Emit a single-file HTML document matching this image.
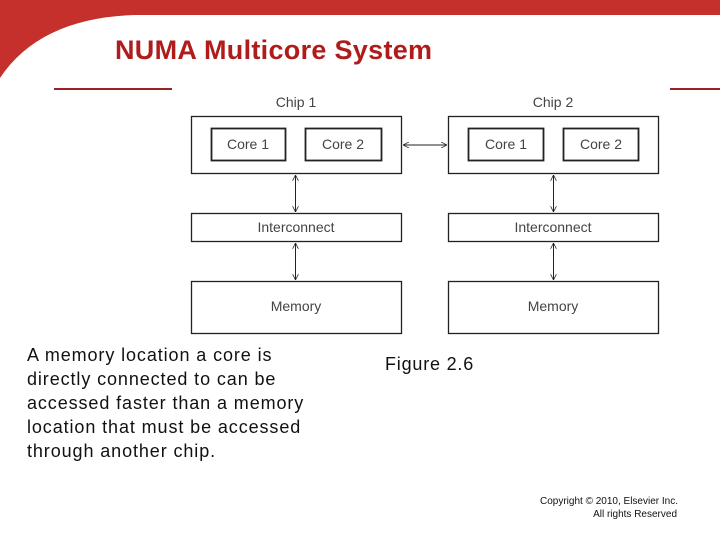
<!DOCTYPE html>
<html><head><style>
body{margin:0;width:720px;height:540px;background:#fff;position:relative;overflow:hidden;font-family:"Liberation Sans",sans-serif}
.t{position:absolute;white-space:nowrap}
</style></head><body>
<svg width="720" height="540" style="position:absolute;left:0;top:0">
<path d="M0 0 H720 V15 H135 Q40 18 0 78 Z" fill="#c5302c"/>
<line x1="54" y1="89" x2="172" y2="89" stroke="#9b2423" stroke-width="2"/>
<line x1="670" y1="89" x2="720" y2="89" stroke="#9b2423" stroke-width="2"/>
<defs><marker id="a" viewBox="0 0 10 10" refX="10" refY="5" markerWidth="6" markerHeight="6" orient="auto-start-reverse"><path d="M0 0 L10 5 L0 10" fill="none" stroke="#222" stroke-width="1.3"/></marker></defs>
<g fill="none" stroke="#222" stroke-width="1.3">
<rect x="191.5" y="116.5" width="210" height="57"/>
<rect x="211.5" y="128.5" width="74" height="32" stroke-width="1.8"/>
<rect x="305.5" y="128.5" width="76" height="32" stroke-width="1.8"/>
<rect x="448.5" y="116.5" width="210" height="57"/>
<rect x="468.5" y="128.5" width="75" height="32" stroke-width="1.8"/>
<rect x="563.5" y="128.5" width="75" height="32" stroke-width="1.8"/>
<rect x="191.5" y="213.5" width="210" height="28"/>
<rect x="448.5" y="213.5" width="210" height="28"/>
<rect x="191.5" y="281.5" width="210" height="52"/>
<rect x="448.5" y="281.5" width="210" height="52"/>
<g stroke-width="1" marker-start="url(#a)" marker-end="url(#a)">
<line x1="403" y1="145" x2="447" y2="145"/>
<line x1="295.5" y1="175" x2="295.5" y2="212"/>
<line x1="295.5" y1="243" x2="295.5" y2="280"/>
<line x1="553.5" y1="175" x2="553.5" y2="212"/>
<line x1="553.5" y1="243" x2="553.5" y2="280"/>
</g></g>
<g font-family="Liberation Sans" font-size="14" fill="#444" text-anchor="middle">
<text x="296" y="107">Chip 1</text><text x="553" y="107">Chip 2</text>
<text x="248" y="149">Core 1</text><text x="343" y="149">Core 2</text>
<text x="506" y="149">Core 1</text><text x="601" y="149">Core 2</text>
<text x="296" y="232">Interconnect</text><text x="553" y="232">Interconnect</text>
<text x="296" y="311">Memory</text><text x="553" y="311">Memory</text>
</g>
</svg>
<div class="t" style="left:115px;top:35px;font-size:27px;font-weight:bold;color:#b01c1c;letter-spacing:0.3px">NUMA Multicore System</div>
<div class="t" style="left:27px;top:343px;font-size:18px;line-height:24px;color:#111;letter-spacing:0.9px">A memory location a core is<br>directly connected to can be<br>accessed faster than a memory<br>location that must be accessed<br>through another chip.</div>
<div class="t" style="left:385px;top:354px;font-size:18px;color:#111;letter-spacing:0.8px">Figure 2.6</div>
<div class="t" style="left:540px;top:495px;font-size:10px;line-height:13px;color:#111;text-align:right;width:137px">Copyright © 2010, Elsevier Inc.<br>All rights Reserved</div>
</body></html>
